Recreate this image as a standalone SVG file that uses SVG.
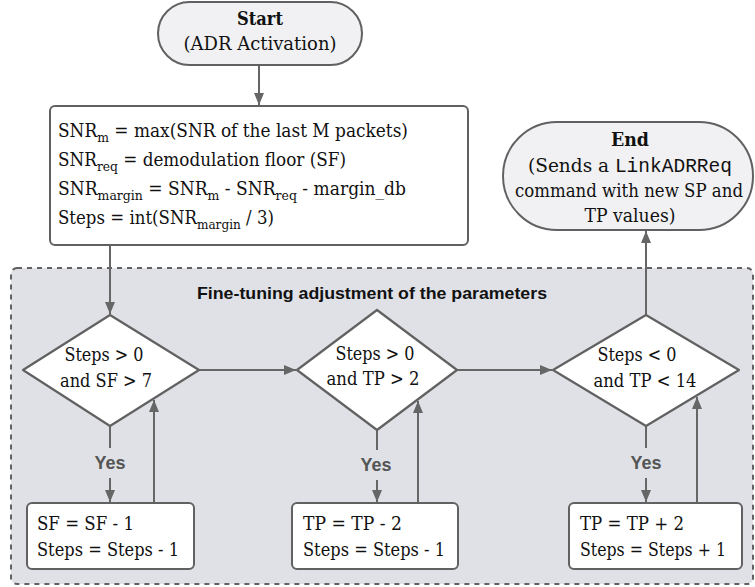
<svg xmlns="http://www.w3.org/2000/svg" width="755" height="587" viewBox="0 0 755 587">
<style>
.serif{font-family:"DejaVu Serif","Liberation Serif",serif;font-size:18.5px;fill:#111}
.b{font-weight:bold}
.mono{font-family:"Liberation Mono","DejaVu Sans Mono",monospace;font-size:19.5px}
.sub{font-size:13.5px;baseline-shift:-5px}
.pill{fill:#f1f1f3;stroke:#616161;stroke-width:2}
.box{fill:#ffffff;stroke:#616161;stroke-width:2}
.dia{fill:#ffffff;stroke:#616161;stroke-width:2.2;stroke-linejoin:round}
.edge{fill:none;stroke:#666666;stroke-width:2}
.yes{font-family:"Liberation Sans",Arial,sans-serif;font-size:18px;font-weight:bold;fill:#555555}
.glabel{font-family:"Liberation Sans",Arial,sans-serif;font-size:17px;font-weight:bold;fill:#111}
</style>
<defs>
<marker id="ah" viewBox="0 0 12 10" refX="12" refY="5" markerWidth="12" markerHeight="10" markerUnits="userSpaceOnUse" orient="auto">
<path d="M0,0 L12,5 L0,10 Z" fill="#666666"/>
</marker>
</defs>

<g id="group-finetune">
<rect x="11" y="268" width="742" height="316" rx="6" fill="#dfe1e6" stroke="#616161" stroke-width="2" stroke-dasharray="5 5"/>
<text class="glabel" x="372" y="299" text-anchor="middle" textLength="350" lengthAdjust="spacingAndGlyphs">Fine-tuning adjustment of the parameters</text>
</g>

<g id="connectors">
<line class="edge" x1="259" y1="65" x2="259" y2="105" marker-end="url(#ah)"/>
<line class="edge" x1="110" y1="246" x2="110" y2="314" marker-end="url(#ah)"/>
<line class="edge" x1="199" y1="370" x2="296" y2="370" marker-end="url(#ah)"/>
<line class="edge" x1="457" y1="370" x2="552" y2="370" marker-end="url(#ah)"/>
<line class="edge" x1="646" y1="315" x2="646" y2="231" marker-end="url(#ah)"/>
<line class="edge" x1="110" y1="426" x2="110" y2="448"/>
<line class="edge" x1="110" y1="478" x2="110" y2="502" marker-end="url(#ah)"/>
<line class="edge" x1="377" y1="430" x2="377" y2="450"/>
<line class="edge" x1="377" y1="480" x2="377" y2="502" marker-end="url(#ah)"/>
<line class="edge" x1="646" y1="426" x2="646" y2="448"/>
<line class="edge" x1="646" y1="478" x2="646" y2="502" marker-end="url(#ah)"/>
<line class="edge" x1="154" y1="503" x2="154" y2="400" marker-end="url(#ah)"/>
<line class="edge" x1="418" y1="503" x2="418" y2="401" marker-end="url(#ah)"/>
<line class="edge" x1="697" y1="503" x2="697" y2="397" marker-end="url(#ah)"/>
<text class="yes" x="110" y="469" text-anchor="middle">Yes</text>
<text class="yes" x="376" y="471" text-anchor="middle">Yes</text>
<text class="yes" x="646" y="469" text-anchor="middle">Yes</text>
</g>

<g id="start">
<rect class="pill" x="158" y="2" width="204" height="63" rx="31.5"/>
<text class="serif b" x="260" y="25" text-anchor="middle" textLength="46" lengthAdjust="spacingAndGlyphs">Start</text>
<text class="serif" x="260" y="50" text-anchor="middle" textLength="153" lengthAdjust="spacingAndGlyphs">(ADR Activation)</text>
</g>

<g id="compute">
<rect class="box" x="50" y="106" width="418" height="139" rx="5"/>
<text class="serif" x="58" y="137" textLength="350" lengthAdjust="spacingAndGlyphs">SNR<tspan class="sub">m</tspan> = max(SNR of the last M packets)</text>
<text class="serif" x="58" y="166" textLength="288" lengthAdjust="spacingAndGlyphs">SNR<tspan class="sub">req</tspan> = demodulation floor (SF)</text>
<text class="serif" x="58" y="195" textLength="348" lengthAdjust="spacingAndGlyphs">SNR<tspan class="sub">margin</tspan> = SNR<tspan class="sub">m</tspan> - SNR<tspan class="sub">req</tspan> - margin_db</text>
<text class="serif" x="58" y="224" textLength="216" lengthAdjust="spacingAndGlyphs">Steps = int(SNR<tspan class="sub">margin</tspan> / 3)</text>
</g>

<g id="end">
<rect class="pill" x="503" y="122" width="250" height="108" rx="54"/>
<text class="serif b" x="630" y="146" text-anchor="middle" textLength="38" lengthAdjust="spacingAndGlyphs">End</text>
<text class="serif" x="630" y="172" text-anchor="middle">(Sends a <tspan class="mono">LinkADRReq</tspan></text>
<text class="serif" x="629" y="197" text-anchor="middle" textLength="228" lengthAdjust="spacingAndGlyphs">command with new SP and</text>
<text class="serif" x="630" y="222" text-anchor="middle" textLength="91" lengthAdjust="spacingAndGlyphs">TP values)</text>
</g>

<g id="cond-sf">
<polygon class="dia" points="110,315 199,370 110,426 23,370"/>
<text class="serif" x="104" y="361" text-anchor="middle" textLength="79" lengthAdjust="spacingAndGlyphs">Steps &gt; 0</text>
<text class="serif" x="106" y="387" text-anchor="middle" textLength="92" lengthAdjust="spacingAndGlyphs">and SF &gt; 7</text>
</g>

<g id="cond-tp-dec">
<polygon class="dia" points="377,310 457,370 377,430 297,370"/>
<text class="serif" x="375" y="360" text-anchor="middle" textLength="79" lengthAdjust="spacingAndGlyphs">Steps &gt; 0</text>
<text class="serif" x="373" y="385" text-anchor="middle" textLength="93" lengthAdjust="spacingAndGlyphs">and TP &gt; 2</text>
</g>

<g id="cond-tp-inc">
<polygon class="dia" points="646,315 739,370 646,426 553,370"/>
<text class="serif" x="637" y="361" text-anchor="middle" textLength="79" lengthAdjust="spacingAndGlyphs">Steps &lt; 0</text>
<text class="serif" x="645" y="387" text-anchor="middle" textLength="103" lengthAdjust="spacingAndGlyphs">and TP &lt; 14</text>
</g>

<g id="act-sf">
<rect class="box" x="27" y="503" width="167" height="66" rx="5"/>
<text class="serif" x="37" y="530" textLength="97" lengthAdjust="spacingAndGlyphs">SF = SF - 1</text>
<text class="serif" x="37" y="556" textLength="142" lengthAdjust="spacingAndGlyphs">Steps = Steps - 1</text>
</g>

<g id="act-tp-dec">
<rect class="box" x="292" y="503" width="166" height="66" rx="5"/>
<text class="serif" x="303" y="530" textLength="99" lengthAdjust="spacingAndGlyphs">TP = TP - 2</text>
<text class="serif" x="303" y="556" textLength="142" lengthAdjust="spacingAndGlyphs">Steps = Steps - 1</text>
</g>

<g id="act-tp-inc">
<rect class="box" x="569" y="503" width="173" height="66" rx="5"/>
<text class="serif" x="580" y="530" textLength="104" lengthAdjust="spacingAndGlyphs">TP = TP + 2</text>
<text class="serif" x="580" y="556" textLength="146" lengthAdjust="spacingAndGlyphs">Steps = Steps + 1</text>
</g>
</svg>
